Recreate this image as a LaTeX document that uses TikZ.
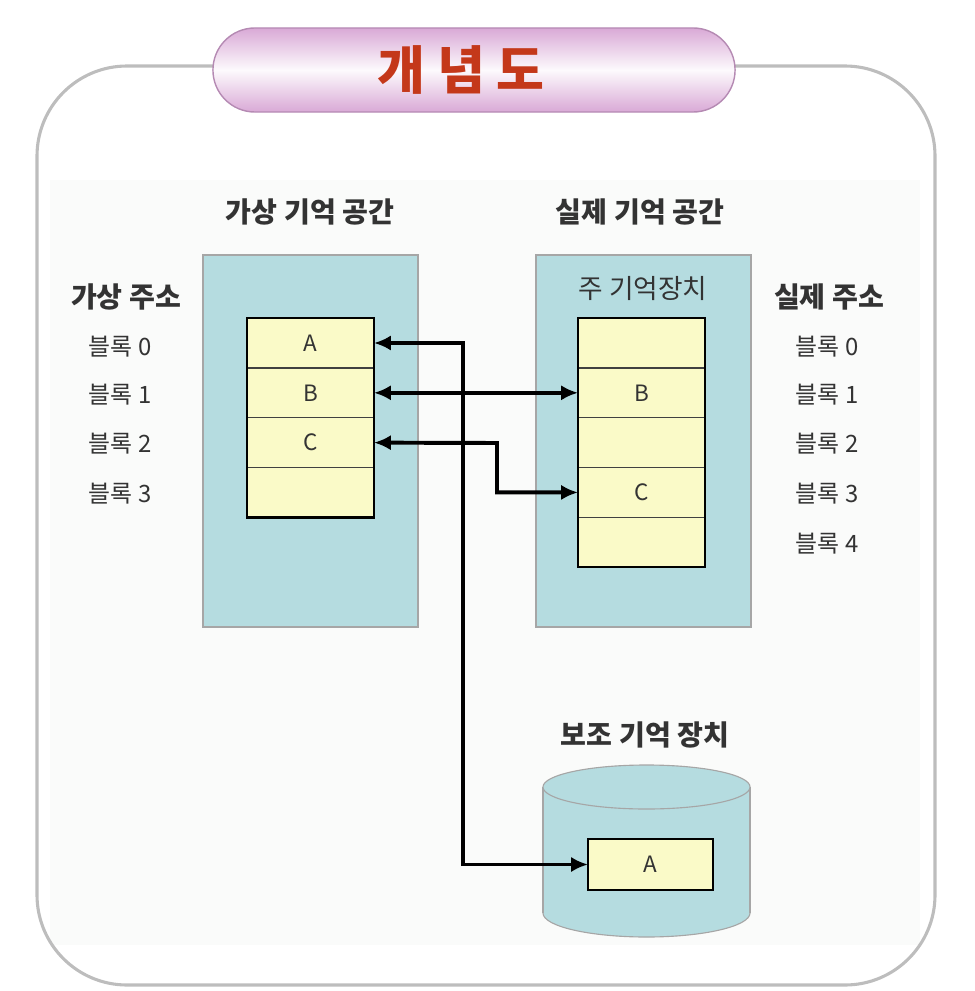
\documentclass[tikz,border=0pt]{standalone}
\usepackage{fontspec}
\setmainfont{Noto Sans CJK KR}
\usetikzlibrary{positioning,arrows.meta,fit}
\definecolor{frame}{HTML}{BDBDBD}
\definecolor{panel}{HTML}{FAFBFA}
\definecolor{space}{HTML}{B5DCE0}
\definecolor{cell}{HTML}{FAFAC8}
\definecolor{titlered}{HTML}{C4381A}
\definecolor{pillpink}{HTML}{D9A9D6}
\definecolor{pillline}{HTML}{B58AB3}
\definecolor{ink}{HTML}{333333}

\begin{document}
\begin{tikzpicture}[x=0.025cm, y=-0.025cm, font=\fontsize{17}{20}\selectfont, text=ink,
    head/.style={font=\bfseries\fontsize{20}{24}\selectfont},
    area/.style={draw=gray!70, fill=space, line width=0.8pt, minimum width=5.375cm,
                 minimum height=9.3cm, inner sep=0pt},
    cellbox/.style={draw=black!75, fill=cell, line width=0.9pt, minimum width=3.175cm,
                    minimum height=1.245cm, inner sep=0pt, outer sep=0pt,
                    font=\fontsize{16}{18}\selectfont},
    tablefr/.style={draw=black, line width=1.8pt, inner sep=0pt},
    pill/.style={draw=pillline, line width=1pt, rounded corners=1.05cm,
                 minimum width=13.05cm, minimum height=2.1cm,
                 top color=pillpink, bottom color=pillpink, middle color=white!94!pillpink},
    link/.style={line width=2.8pt, {Latex[length=4.2mm,width=3.8mm]}-{Latex[length=4.2mm,width=3.8mm]}}]
  \useasboundingbox (0,0) rectangle (974,991);
  % frame, faint panel and title
  \fill[panel] (50,180) rectangle (920,945);
  \draw[frame, line width=2.2pt, rounded corners=2.25cm] (37,66) rectangle (935,985);
  \node[pill] (title) at (474,70) {};
  \node[text=titlered, font=\bfseries\fontsize{37}{42}\selectfont] (titletext) at (461,70) {개 념 도};

  % virtual memory space
  \node[head] (vhead) at (310,212) {가상 기억 공간};
  \node[area] (varea) at (310.5,441) {};
  \node[cellbox] (v1) at (310.5,343) {A};
  \node[cellbox, below=0pt of v1] (v2) {B};
  \node[cellbox, below=0pt of v2] (v3) {C};
  \node[cellbox, below=0pt of v3] (v4) {};
  \node[tablefr, fit=(v1)(v4)] (vtable) {};
  \node[head] (vaddr) at (126,297) {가상 주소};
  \foreach \i/\y in {0/347,1/395,2/444,3/494}
    \node[anchor=west] (vb\i) at (84,\y) {블록 \i};

  % real memory space
  \node[head] (rhead) at (640,212) {실제 기억 공간};
  \node[area] (rarea) at (643.5,441) {};
  \node[font=\fontsize{19}{22}\selectfont] (mhead) at (643,289) {주 기억장치};
  \node[cellbox] (m1) at (641.5,343) {};
  \node[cellbox, below=0pt of m1] (m2) {B};
  \node[cellbox, below=0pt of m2] (m3) {};
  \node[cellbox, below=0pt of m3] (m4) {C};
  \node[cellbox, below=0pt of m4] (m5) {};
  \node[tablefr, fit=(m1)(m5)] (mtable) {};
  \node[head] (raddr) at (829,297) {실제 주소};
  \foreach \i/\y in {0/347,1/395,2/444,3/494,4/544}
    \node[anchor=west] (rb\i) at (791,\y) {블록 \i};

  % secondary storage
  \node[head] (shead) at (645,735) {보조 기억 장치};
  \draw[gray!70, fill=space, line width=0.8pt] (646.5,913) ellipse [x radius=2.5875cm, y radius=0.6cm];
  \fill[space] (543,787) rectangle (750,913);
  \draw[gray!70, line width=0.8pt] (543,787) -- (543,913) (750,787) -- (750,913);
  \draw[gray!70, fill=space, line width=0.8pt] (646.5,787) ellipse [x radius=2.5875cm, y radius=0.55cm];
  \node[cellbox, minimum width=3.125cm, minimum height=1.275cm, draw=black, line width=1.8pt] (sA) at (650.5,864.5) {A};

  % mappings
  \coordinate (aturn) at (463,343);
  \coordinate (cturn) at (497,443);
  \draw[link] (v1.east) -- (aturn) |- (sA.west);
  \draw[link] (v2.east) -- (m2.west);
  \draw[link] (v3.east) -- (cturn) |- (m4.west);
\end{tikzpicture}
\end{document}
